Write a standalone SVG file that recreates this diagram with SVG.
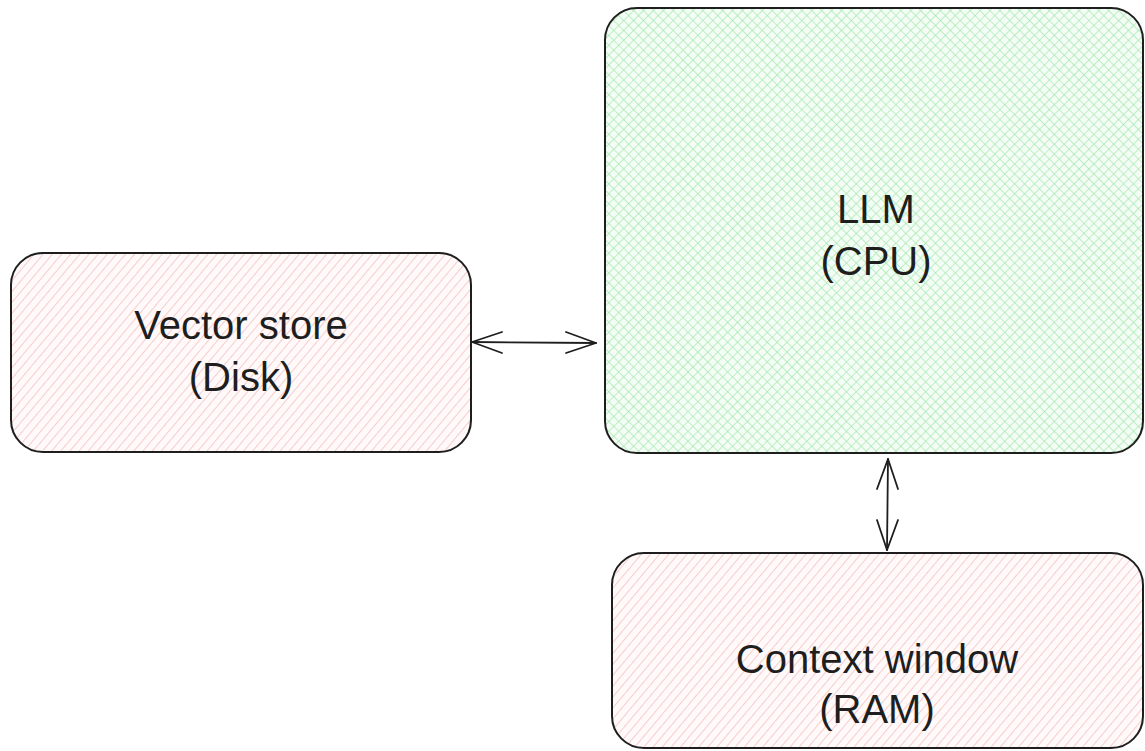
<svg xmlns="http://www.w3.org/2000/svg" width="1145" height="751" viewBox="0 0 1145 751">
<defs>
<pattern id="pink" patternUnits="userSpaceOnUse" width="7" height="7" patternTransform="rotate(40)">
<rect width="7" height="7" fill="#fff9f9"/>
<line x1="0" y1="0" x2="0" y2="7" stroke="#f2b5b5" stroke-width="1.3"/>
</pattern>
<pattern id="green" patternUnits="userSpaceOnUse" width="7" height="7" patternTransform="rotate(45)">
<rect width="7" height="7" fill="#f4fdf5"/>
<line x1="0" y1="0" x2="0" y2="7" stroke="#9fe6aa" stroke-width="1.3"/>
<line x1="0" y1="0" x2="7" y2="0" stroke="#9fe6aa" stroke-width="1.3"/>
</pattern>
</defs>
<style>
.box{stroke:#1e1e1e;stroke-width:2;}
.lbl{font-family:"Liberation Sans",Arial,sans-serif;font-size:40px;fill:#1e1e1e;text-anchor:middle;}
.arr{stroke:#1e1e1e;stroke-width:1.8;fill:none;stroke-linecap:round;}
</style>
<g id="vector-store">
<rect class="box" x="11" y="253" width="460" height="199" rx="32" fill="url(#pink)"/>
<text class="lbl" x="241" y="339">Vector store</text>
<text class="lbl" x="241" y="391">(Disk)</text>
</g>
<g id="llm">
<rect class="box" x="605" y="8" width="538" height="445" rx="32" fill="url(#green)"/>
<text class="lbl" x="876" y="223">LLM</text>
<text class="lbl" x="876" y="275">(CPU)</text>
</g>
<g id="context-window">
<rect class="box" x="612" y="553" width="531" height="195" rx="32" fill="url(#pink)"/>
<text class="lbl" x="877" y="673">Context window</text>
<text class="lbl" x="877" y="723">(RAM)</text>
</g>
<g id="connectors">
<path class="arr" d="M472 342 L596 343"/>
<path class="arr" d="M472 342 L502 332 M472 342 L502 353"/>
<path class="arr" d="M596 343 L566 332 M596 343 L566 353"/>
<path class="arr" d="M888 459 L887 550"/>
<path class="arr" d="M888 459 L877 489 M888 459 L898 489"/>
<path class="arr" d="M887 550 L877 520 M887 550 L898 520"/>
</g>
</svg>
